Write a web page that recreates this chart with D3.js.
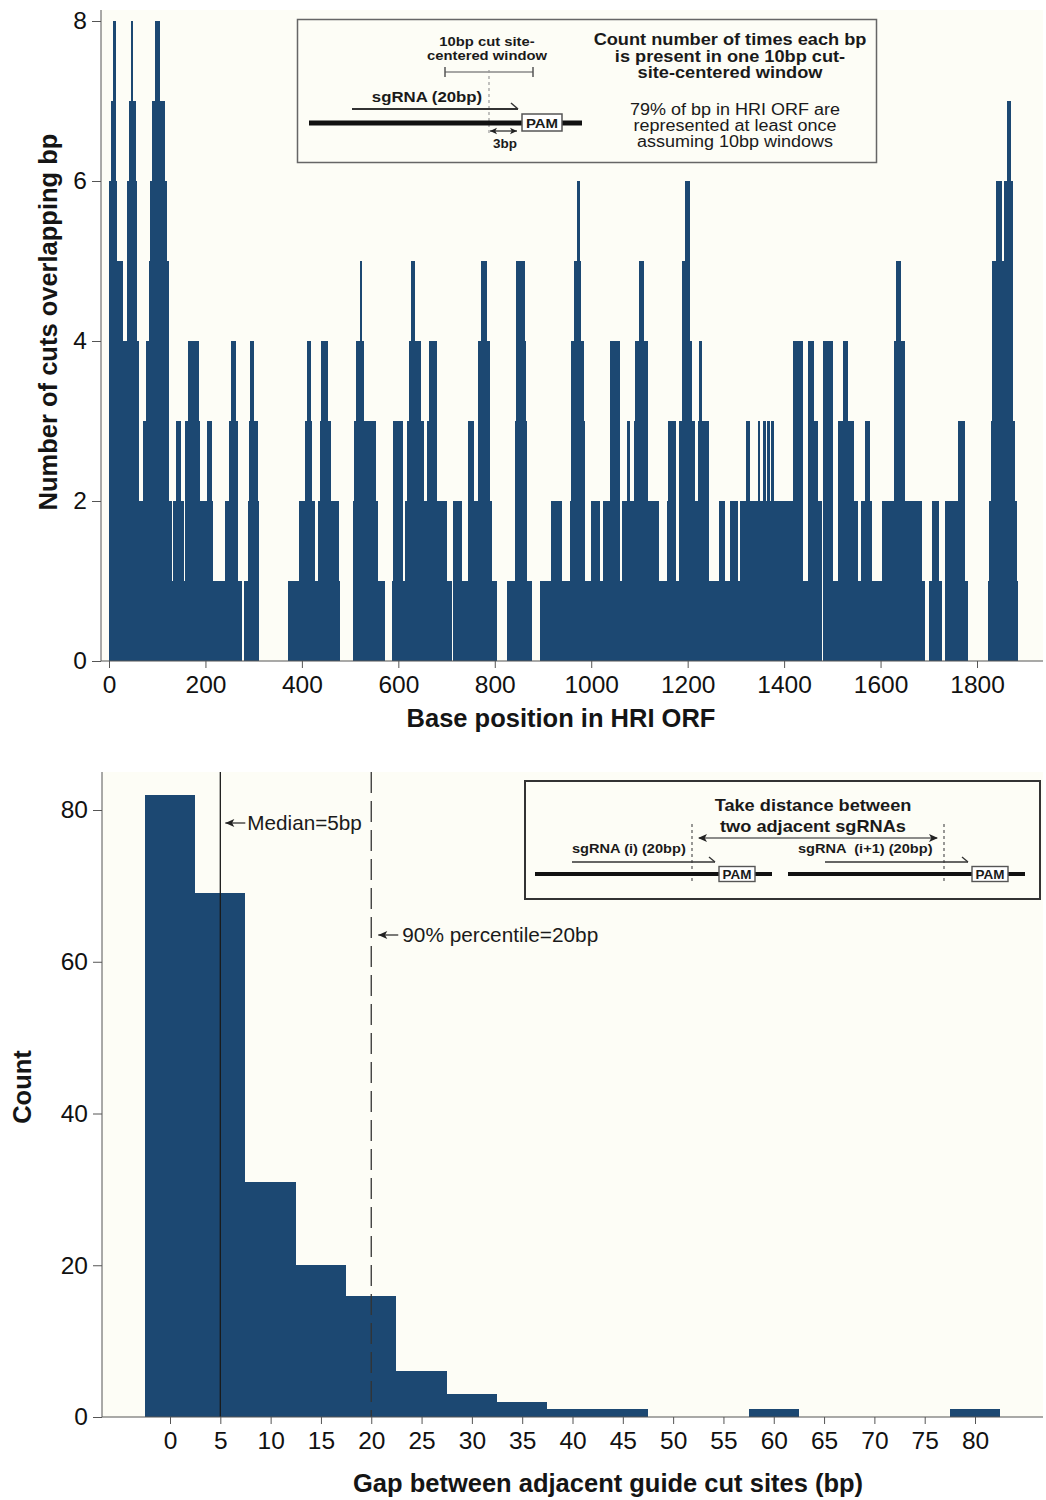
<!DOCTYPE html>
<html>
<head>
<meta charset="utf-8">
<script src="https://cdn.jsdelivr.net/npm/d3@7"></script>
<style>
body { margin: 0; background: #fff; }
svg { font-family: "Liberation Sans", Arial, Helvetica, sans-serif; }
</style>
</head>
<body>
<svg id="chart" width="1046" height="1500"></svg>
<script>
// top panel: runs of equal coverage, [start bp, end bp, cuts overlapping]
const coverageRuns = [
  [0,16,6],[5,14,7],[8,14,8],
  [16,28,5],[28,37,4],
  [37,59,6],[42,57,7],[45,50,8],
  [59,63,4],[63,70,2],[70,76,3],[76,84,4],
  [83,125,5],[86,120,6],[89,117,7],[96,106,8],
  [125,130,2],[130,133,1],[133,155,2],[139,149,3],
  [155,160,1],[157,189,3],[164,187,4],
  [189,216,2],[204,213,3],
  [216,241,1],[241,251,2],[249,268,3],[254,263,4],
  [268,275,1],[279,288,1],[288,312,2],[290,310,3],[292,301,4],
  [372,395,1],[395,427,2],[406,420,3],[411,418,4],
  [427,434,1],[434,476,2],[437,460,3],[440,455,4],[476,479,1],
  [505,572,1],[505,558,2],[509,554,3],[512,529,4],[520,525,5],
  [586,614,1],[588,609,3],
  [614,655,2],[617,653,3],[622,646,4],[626,635,5],
  [655,700,2],[659,681,3],[664,680,4],[700,711,1],[714,733,2],
  [733,744,1],[744,766,2],[744,756,3],
  [759,794,2],[766,790,4],[771,783,5],
  [794,804,1],
  [825,877,1],[842,866,3],[843,864,4],[845,863,5],
  [894,918,1],[917,939,2],[939,956,1],
  [956,987,2],[958,987,3],[959,986,4],[965,979,5],[970,976,6],
  [987,1000,1],[1000,1018,2],[1018,1024,1],
  [1024,1060,2],[1039,1060,4],[1060,1064,1],
  [1064,1088,2],[1074,1080,3],[1089,1096,3],
  [1088,1132,2],[1091,1118,4],[1099,1110,5],
  [1132,1141,2],[1141,1157,1],[1157,1176,2],[1160,1176,3],[1176,1183,1],
  [1183,1215,3],[1188,1208,4],[1188,1205,5],[1195,1205,6],
  [1215,1222,2],[1222,1245,3],[1224,1230,4],
  [1245,1264,1],[1264,1277,2],[1277,1288,1],[1288,1305,2],[1305,1309,1],
  [1309,1419,2],[1321,1329,3],[1345,1351,3],[1356,1362,3],[1365,1371,3],[1372,1378,3],
  [1419,1440,4],[1440,1450,1],[1450,1461,4],[1461,1471,3],[1471,1479,2],
  [1480,1502,4],[1502,1512,1],[1512,1544,3],[1523,1533,4],
  [1544,1554,2],[1554,1560,1],[1560,1583,2],[1568,1578,3],
  [1583,1602,1],[1602,1613,2],
  [1613,1654,2],[1628,1651,4],[1633,1643,5],
  [1654,1685,2],[1685,1692,1],
  [1700,1727,1],[1707,1721,2],
  [1734,1775,2],[1760,1775,3],[1775,1781,1],
  [1822,1886,1],[1825,1882,2],[1829,1879,3],[1832,1875,5],[1839,1851,6],[1857,1875,6],[1862,1870,7]
]
const topXTicks = [0, 200, 400, 600, 800, 1000, 1200, 1400, 1600, 1800]
const topYTicks = [0, 2, 4, 6, 8]

// bottom panel: histogram of gaps, 5bp bins
const gapBins = [0, 5, 10, 15, 20, 25, 30, 35, 40, 45, 60, 80]
const gapCounts = [82, 69, 31, 20, 16, 6, 3, 2, 1, 1, 1, 1]
const gapXTicks = [0, 5, 10, 15, 20, 25, 30, 35, 40, 45, 50, 55, 60, 65, 70, 75, 80]
const gapYTicks = [0, 20, 40, 60, 80]
const medianGap = 5
const p90Gap = 20

const svg = d3.select('#chart')
const barColor = '#1c4872'
const bg = '#fdfdf6'
const ink = '#151515'

// half arrow head helper
const arrowHead = (g, x, y, dir, size) => {
  g.append('path')
    .attr('d', `M${x},${y} L${x + dir * size},${y - size * 0.45} L${x + dir * size * 0.75},${y} L${x + dir * size},${y + size * 0.45} Z`)
    .attr('fill', '#222')
}
// legend text, a bit squeezed vertically like the original
const squish = (g, x, y, txt, size, bold, anchor = 'middle') =>
  g.append('text')
    .attr('transform', `translate(${x},${y}) scale(1,0.88)`)
    .attr('text-anchor', anchor)
    .attr('font-size', size)
    .attr('font-weight', bold ? 'bold' : null)
    .attr('fill', '#1a1a1a')
    .style('white-space', 'pre')
    .text(txt)

// ================= top panel =================
const xTop = d3.scaleLinear().domain([0, 1800]).range([109, 977])
const yTop = d3.scaleLinear().domain([0, 8]).range([661, 21])

const topPanel = svg.append('g')
topPanel.append('rect').attr('x', 101).attr('y', 10).attr('width', 942).attr('height', 651).attr('fill', bg)

topPanel.selectAll('rect.cov')
  .data(coverageRuns)
  .join('rect')
  .attr('class', 'cov')
  .attr('x', d => xTop(d[0]))
  .attr('width', d => xTop(d[1]) - xTop(d[0]))
  .attr('y', d => yTop(d[2]))
  .attr('height', d => yTop(0) - yTop(d[2]))
  .attr('fill', barColor)
  .attr('shape-rendering', 'crispEdges')

const topXAxis = topPanel.append('g')
  .attr('transform', 'translate(0,661)')
  .call(d3.axisBottom(xTop).tickValues(topXTicks).tickFormat(d3.format('d')).tickSize(7).tickSizeOuter(0).tickPadding(8))
const topYAxis = topPanel.append('g')
  .attr('transform', 'translate(101,0)')
  .call(d3.axisLeft(yTop).tickValues(topYTicks).tickSize(9).tickSizeOuter(0).tickPadding(5))

topPanel.append('line').attr('x1', 101).attr('x2', 1043).attr('y1', 661).attr('y2', 661).attr('stroke', '#555')
topPanel.append('line').attr('x1', 101).attr('x2', 101).attr('y1', 10).attr('y2', 661).attr('stroke', '#555')

topPanel.append('text')
  .attr('x', 561).attr('y', 727)
  .attr('text-anchor', 'middle')
  .attr('font-size', 25.5).attr('font-weight', 'bold').attr('fill', ink)
  .text('Base position in HRI ORF')
topPanel.append('text')
  .attr('transform', 'translate(57,322) rotate(-90)')
  .attr('text-anchor', 'middle')
  .attr('font-size', 25.5).attr('font-weight', 'bold').attr('fill', ink)
  .text('Number of cuts overlapping bp')

// top legend box
const lg1 = topPanel.append('g')
lg1.append('rect').attr('x', 297.5).attr('y', 19.5).attr('width', 579).attr('height', 143)
  .attr('fill', bg).attr('stroke', '#666').attr('stroke-width', 1.5)
squish(lg1, 487, 46, '10bp cut site-', 14.8, true)
squish(lg1, 487, 59.5, 'centered window', 14.8, true)
lg1.append('line').attr('x1', 445).attr('x2', 533).attr('y1', 72).attr('y2', 72).attr('stroke', '#888').attr('stroke-width', 1.5)
lg1.append('line').attr('x1', 445).attr('x2', 445).attr('y1', 67).attr('y2', 77).attr('stroke', '#555').attr('stroke-width', 1.5)
lg1.append('line').attr('x1', 533).attr('x2', 533).attr('y1', 67).attr('y2', 77).attr('stroke', '#555').attr('stroke-width', 1.5)
lg1.append('line').attr('x1', 489).attr('x2', 489).attr('y1', 70).attr('y2', 134)
  .attr('stroke', '#999').attr('stroke-width', 1.2).attr('stroke-dasharray', '3,3')
squish(lg1, 427, 102, 'sgRNA (20bp)', 16.8, true)
lg1.append('line').attr('x1', 352).attr('x2', 518).attr('y1', 109).attr('y2', 109).attr('stroke', '#333').attr('stroke-width', 2)
lg1.append('line').attr('x1', 518).attr('x2', 511).attr('y1', 109).attr('y2', 103).attr('stroke', '#333').attr('stroke-width', 1.5)
lg1.append('line').attr('x1', 309).attr('x2', 582).attr('y1', 123).attr('y2', 123).attr('stroke', '#111').attr('stroke-width', 5)
lg1.append('rect').attr('x', 522).attr('y', 114).attr('width', 40).attr('height', 17)
  .attr('fill', '#fff').attr('stroke', '#555').attr('stroke-width', 1.5)
squish(lg1, 542, 128, 'PAM', 15, true)
lg1.append('line').attr('x1', 490).attr('x2', 517).attr('y1', 131).attr('y2', 131).attr('stroke', '#222').attr('stroke-width', 1.2)
arrowHead(lg1, 490, 131, 1, 7)
arrowHead(lg1, 517, 131, -1, 7)
squish(lg1, 505, 148, '3bp', 13.5, true)

const lg1Bold = ['Count number of times each bp', 'is present in one 10bp cut-', 'site-centered window']
lg1Bold.forEach((t, i) => squish(lg1, 730, 45 + i * 16.5, t, 18.2, true))
const lg1Note = ['79% of bp in HRI ORF are', 'represented at least once', 'assuming 10bp windows']
lg1Note.forEach((t, i) => squish(lg1, 735, 115 + i * 16.2, t, 18, false))

// ================= bottom panel =================
const xBot = d3.scaleLinear().domain([0, 80]).range([170, 975])
const yBot = d3.scaleLinear().domain([0, 80]).range([1417, 810])

const botPanel = svg.append('g')
botPanel.append('rect').attr('x', 102).attr('y', 772).attr('width', 941).attr('height', 645).attr('fill', bg)

botPanel.selectAll('rect.bin')
  .data(gapBins.map((b, i) => ({ bin: b, n: gapCounts[i] })))
  .join('rect')
  .attr('class', 'bin')
  .attr('x', d => xBot(d.bin - 2.5))
  .attr('width', d => xBot(d.bin + 2.5) - xBot(d.bin - 2.5))
  .attr('y', d => yBot(d.n))
  .attr('height', d => yBot(0) - yBot(d.n))
  .attr('fill', barColor)
  .attr('shape-rendering', 'crispEdges')

botPanel.append('line')
  .attr('x1', xBot(medianGap)).attr('x2', xBot(medianGap))
  .attr('y1', 772).attr('y2', 1417)
  .attr('stroke', '#1a1a1a').attr('stroke-width', 1.3)
botPanel.append('line')
  .attr('x1', xBot(p90Gap)).attr('x2', xBot(p90Gap))
  .attr('y1', 772).attr('y2', 1417)
  .attr('stroke', '#333').attr('stroke-width', 1.3).attr('stroke-dasharray', '21,8')

const medX = xBot(medianGap) + 5
botPanel.append('line').attr('x1', medX).attr('x2', medX + 20).attr('y1', 823).attr('y2', 823).attr('stroke', '#222').attr('stroke-width', 1.2)
arrowHead(botPanel, medX, 823, 1, 9)
botPanel.append('text').attr('x', medX + 22).attr('y', 830).attr('font-size', 20.7).attr('fill', '#1a1a1a').text('Median=' + medianGap + 'bp')

const p90X = xBot(p90Gap) + 7
botPanel.append('line').attr('x1', p90X).attr('x2', p90X + 20).attr('y1', 935).attr('y2', 935).attr('stroke', '#222').attr('stroke-width', 1.2)
arrowHead(botPanel, p90X, 935, 1, 9)
botPanel.append('text').attr('x', p90X + 24).attr('y', 942).attr('font-size', 20.8).attr('fill', '#1a1a1a').text('90% percentile=' + p90Gap + 'bp')

const botXAxis = botPanel.append('g')
  .attr('transform', 'translate(0,1417)')
  .call(d3.axisBottom(xBot).tickValues(gapXTicks).tickSize(7).tickSizeOuter(0).tickPadding(8))
const botYAxis = botPanel.append('g')
  .attr('transform', 'translate(102,0)')
  .call(d3.axisLeft(yBot).tickValues(gapYTicks).tickSize(9).tickSizeOuter(0).tickPadding(5))

botPanel.append('line').attr('x1', 102).attr('x2', 1043).attr('y1', 1417).attr('y2', 1417).attr('stroke', '#555')
botPanel.append('line').attr('x1', 102).attr('x2', 102).attr('y1', 772).attr('y2', 1417).attr('stroke', '#555')

botPanel.append('text')
  .attr('x', 608).attr('y', 1492)
  .attr('text-anchor', 'middle')
  .attr('font-size', 25.5).attr('font-weight', 'bold').attr('fill', ink)
  .text('Gap between adjacent guide cut sites (bp)')
botPanel.append('text')
  .attr('transform', 'translate(31,1087) rotate(-90)')
  .attr('text-anchor', 'middle')
  .attr('font-size', 25.5).attr('font-weight', 'bold').attr('fill', ink)
  .text('Count')

// bottom legend box
const lg2 = botPanel.append('g')
lg2.append('rect').attr('x', 525).attr('y', 781).attr('width', 515).attr('height', 118)
  .attr('fill', bg).attr('stroke', '#333').attr('stroke-width', 2)
squish(lg2, 813, 811, 'Take distance between', 18.2, true)
squish(lg2, 813, 832, 'two adjacent sgRNAs', 18.2, true)
;[692, 944].forEach(x => {
  lg2.append('line').attr('x1', x).attr('x2', x).attr('y1', 824).attr('y2', 882)
    .attr('stroke', '#555').attr('stroke-width', 1.2).attr('stroke-dasharray', '3,3')
})
lg2.append('line').attr('x1', 699).attr('x2', 937).attr('y1', 838).attr('y2', 838).attr('stroke', '#666').attr('stroke-width', 1.4)
arrowHead(lg2, 698, 838, 1, 9)
arrowHead(lg2, 938, 838, -1, 9)
const guides = [
  { label: 'sgRNA (i) (20bp)', tx: 572, a1: 572, a2: 715, d1: 535, d2: 772, pam: 719 },
  { label: 'sgRNA  (i+1) (20bp)', tx: 798, a1: 825, a2: 968, d1: 788, d2: 1025, pam: 972 }
]
guides.forEach(g => {
  squish(lg2, g.tx, 853, g.label, 14.6, true, 'start')
  lg2.append('line').attr('x1', g.a1).attr('x2', g.a2).attr('y1', 862).attr('y2', 862).attr('stroke', '#333').attr('stroke-width', 1.6)
  lg2.append('line').attr('x1', g.a2).attr('x2', g.a2 - 6).attr('y1', 862).attr('y2', 857).attr('stroke', '#333').attr('stroke-width', 1.3)
  lg2.append('line').attr('x1', g.d1).attr('x2', g.d2).attr('y1', 874).attr('y2', 874).attr('stroke', '#111').attr('stroke-width', 4)
  lg2.append('rect').attr('x', g.pam).attr('y', 866.5).attr('width', 36).attr('height', 15)
    .attr('fill', '#fff').attr('stroke', '#555').attr('stroke-width', 1.4)
  squish(lg2, g.pam + 18, 879, 'PAM', 13.5, true)
})

// axis styling
;[topXAxis, topYAxis, botXAxis, botYAxis].forEach(ax => {
  ax.select('.domain').remove()
  ax.attr('font-family', null).attr('font-size', 24.5)
  ax.selectAll('.tick line').attr('stroke', '#555')
  ax.selectAll('.tick text').attr('fill', '#111')
})
</script>
</body>
</html>
